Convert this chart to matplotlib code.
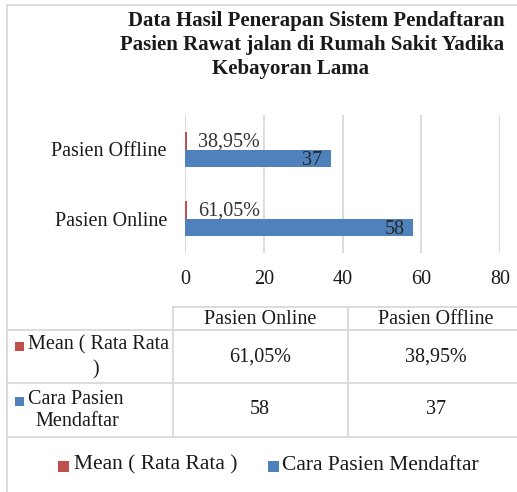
import matplotlib
matplotlib.use("Agg")
import matplotlib.pyplot as plt
from matplotlib.lines import Line2D
from matplotlib.patches import Rectangle

categories = ["Pasien Online", "Pasien Offline"]
mean_values = [0.6105, 0.3895]
mean_labels = ["61,05%", "38,95%"]
daftar_values = [58, 37]
series_names = ["Mean ( Rata Rata )", "Cara Pasien Mendaftar"]
x_ticks = [0, 20, 40, 60, 80]
title_lines = ["Data Hasil Penerapan Sistem Pendaftaran",
               "Pasien Rawat jalan di Rumah Sakit Yadika",
               "Kebayoran Lama"]

RED = "#C0504D"
BLUE = "#4F81BD"
GRID = "#D9D9D9"
TXT = "#1a1a1a"
W, H = 517, 492

plt.rcParams["font.family"] = ["Liberation Serif", "DejaVu Serif"]
fig = plt.figure(figsize=(W / 100, H / 100), dpi=100)


def fx(x):
    return x / W


def fy(y):
    return 1 - y / H


def hline(x0, x1, y):
    fig.add_artist(Line2D([fx(x0), fx(x1)], [fy(y), fy(y)], color=GRID, lw=1.3))


def vline(x, y0, y1):
    fig.add_artist(Line2D([fx(x), fx(x)], [fy(y0), fy(y1)], color=GRID, lw=1.3))


def square(x, y, color, size=9):
    # x = left edge, y = vertical centre, in pixels from top-left
    fig.add_artist(Rectangle((fx(x), fy(y + size / 2)), size / W, size / H,
                             facecolor=color, edgecolor="none",
                             transform=fig.transFigure))


# outer chart border (only top and left visible)
hline(7, W, 5)
vline(7, 5, H)

# title, one line at a time
for (cx, cy), line in zip([(316, 21), (312, 45), (290, 69)], title_lines):
    fig.text(fx(cx), fy(cy), line, ha="center", va="center", fontsize=15,
             fontweight="bold", color=TXT)

ax = fig.add_axes([fx(185), fy(253), fx(500) - fx(185), (253 - 115) / H])
pos = list(range(len(categories)))
h = 0.26
bars_mean = ax.barh([p + h / 2 for p in pos], mean_values, height=h, color=RED)
bars_daftar = ax.barh([p - h / 2 for p in pos], daftar_values, height=h, color=BLUE)

for b, lab in zip(bars_mean, mean_labels):
    ax.text(b.get_width() + 2.8, b.get_y() + b.get_height() / 2 - 0.02, lab,
            ha="left", va="center", fontsize=14.5, color="#333333")
for b, v in zip(bars_daftar, daftar_values):
    ax.text(b.get_width() - 2.3, b.get_y() + b.get_height() / 2 - 0.03, str(v),
            ha="right", va="center", fontsize=14.5, color="#262626")

ax.set_xlim(0, 80)
ax.set_ylim(-0.5, 1.5)
ax.set_xticks(x_ticks)
ax.set_yticks(pos)
ax.set_yticklabels(categories, fontsize=14.5, color=TXT)
ax.tick_params(axis="x", labelsize=14.5, labelcolor=TXT, length=0, pad=12)
ax.tick_params(axis="y", length=0, pad=13)
ax.grid(axis="x", color=GRID, lw=1.3)
ax.set_axisbelow(True)
for s in ax.spines.values():
    s.set_visible(False)

# data table
hline(173, W, 307)
hline(7, W, 330)
hline(7, W, 383)
hline(7, W, 437)
vline(173, 307, 437)
vline(348, 307, 437)
col_x = [260, 436]
fs = 14.5
for cx, c in zip(col_x, categories):
    fig.text(fx(cx), fy(319), c, ha="center", va="center", fontsize=fs, color=TXT)
for cx, lab in zip(col_x, mean_labels):
    fig.text(fx(cx), fy(357), lab, ha="center", va="center", fontsize=fs, color=TXT)
for cx, v in zip(col_x, daftar_values):
    fig.text(fx(cx), fy(410), str(v), ha="center", va="center", fontsize=fs, color=TXT)

square(15, 346, RED)
fig.text(fx(28), fy(345), "Mean ( Rata Rata", ha="left", va="center", fontsize=fs, color=TXT)
fig.text(fx(96), fy(370), ")", ha="center", va="center", fontsize=fs, color=TXT)
square(15, 401, BLUE)
fig.text(fx(28), fy(399), "Cara Pasien", ha="left", va="center", fontsize=fs, color=TXT)
fig.text(fx(35), fy(422), "Mendaftar", ha="left", va="center", fontsize=fs, color=TXT)

# legend
square(58, 466, RED, 11)
fig.text(fx(74), fy(465), series_names[0], ha="left", va="center", fontsize=15.5, color=TXT)
square(268, 466, BLUE, 11)
fig.text(fx(282), fy(465), series_names[1], ha="left", va="center", fontsize=15.5, color=TXT)

fig.savefig("out.png", dpi=100)
